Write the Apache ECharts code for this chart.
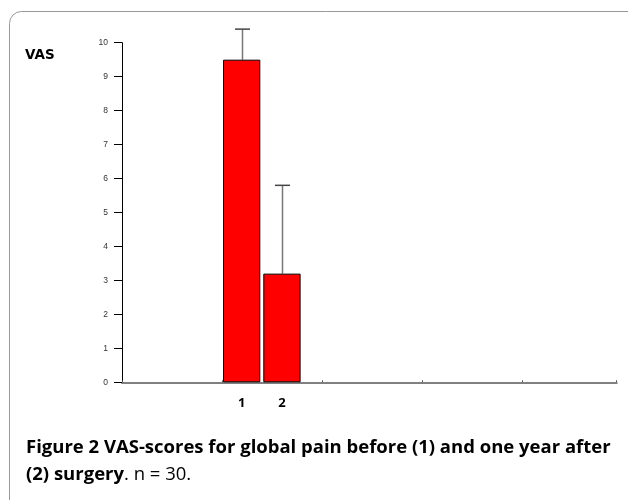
<!DOCTYPE html>
<html>
<head>
<meta charset="utf-8">
<script src="https://cdn.jsdelivr.net/npm/echarts@6/dist/echarts.min.js"></script>
<style>html,body{margin:0;padding:0;background:#fff}#c{width:628px;height:500px}</style>
</head>
<body>
<div id="c"></div>
<script>
var categories = ['1', '2'];
var meanValues = [9.5, 3.2];
var upperValues = [10.4, 5.8];
var yTicks = [0, 1, 2, 3, 4, 5, 6, 7, 8, 9, 10];
var yAxisTitle = 'VAS';
var captionBold1 = 'Figure 2 VAS-scores for global pain before (1) and one year after';
var captionBold2 = '(2) surgery';
var captionRest = '. n = 30.';

var chart = echarts.init(document.getElementById('c'), null, {renderer: 'canvas'});
var top0 = 42.7, bottom0 = 500 - 382.3;
var option = {
  animation: false,
  backgroundColor: '#fff',
  grid: [
    {left: 122, right: 11.3, top: top0, bottom: bottom0},
    {left: 221.5, width: 80.6, top: top0, bottom: bottom0}
  ],
  xAxis: [
    {gridIndex: 0, type: 'value', min: 0, max: 4.95, interval: 1,
     axisLine: {show: true, lineStyle: {color: '#808080', width: 2}},
     axisTick: {show: true, length: 2, inside: true, lineStyle: {color: '#555'}},
     axisLabel: {show: false}, splitLine: {show: false}},
    {gridIndex: 1, type: 'category', data: categories,
     axisLine: {show: false}, axisTick: {show: false}, splitLine: {show: false},
     axisLabel: {show: true, margin: 14, color: '#000', fontSize: 13, fontWeight: 'bold', fontFamily: 'Open Sans'}}
  ],
  yAxis: [
    {gridIndex: 0, type: 'value', min: yTicks[0], max: yTicks[yTicks.length - 1], interval: 1,
     axisLine: {show: true, lineStyle: {color: '#000', width: 1}},
     axisTick: {show: true, length: 8, lineStyle: {color: '#000'}},
     axisLabel: {show: true, margin: 14, color: '#333', fontSize: 8.5, fontFamily: 'Liberation Sans'},
     splitLine: {show: false}},
    {gridIndex: 1, type: 'value', min: 0, max: 10, show: false}
  ],
  series: [
    {type: 'bar', xAxisIndex: 1, yAxisIndex: 1, data: meanValues, barWidth: 37.3,
     itemStyle: {color: '#ff0000', borderColor: '#000', borderWidth: 1}},
    {type: 'custom', xAxisIndex: 1, yAxisIndex: 1,
     data: categories.map(function (c, i) { return [i, meanValues[i], upperValues[i]]; }),
     renderItem: function (params, api) {
       var p0 = api.coord([api.value(0), api.value(1)]);
       var p1 = api.coord([api.value(0), api.value(2)]);
       var x = Math.round(p0[0]) + 0.5;
       return {type: 'group', children: [
         {type: 'line', shape: {x1: x, y1: p0[1], x2: x, y2: p1[1]}, style: {stroke: '#777', lineWidth: 1.5}},
         {type: 'line', shape: {x1: x - 7.5, y1: p1[1], x2: x + 7.5, y2: p1[1]}, style: {stroke: '#444', lineWidth: 1.5}}
       ]};
     }, z: 1}
  ],
  graphic: [
    {type: 'rect', shape: {x: 9.5, y: 11.5, width: 640, height: 520, r: 12},
     style: {fill: 'none', stroke: '#999', lineWidth: 1}, silent: true},
    {type: 'text', x: 25, y: 55,
     style: {text: yAxisTitle, fill: '#000', font: 'bold 13.5px "DejaVu Sans"', verticalAlign: 'middle'}},
    {type: 'text', x: 26, y: 434,
     style: {text: '{b|' + captionBold1 + '}\n{b|' + captionBold2 + '}{r|' + captionRest + '}',
       fill: '#000', lineHeight: 27,
       rich: {
         b: {font: 'bold 18.5px "Open Sans"', fill: '#000', lineHeight: 27},
         r: {font: '18.5px "Open Sans"', fill: '#000', lineHeight: 27}
       }}}
  ]
};
chart.setOption(option);
</script>
</body>
</html>
